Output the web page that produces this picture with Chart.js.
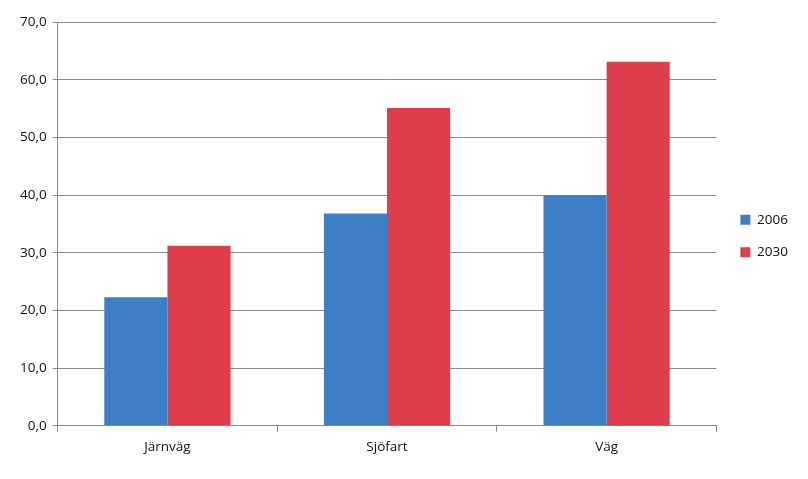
<!DOCTYPE html>
<html>
<head>
    <meta charset="utf-8">
    <title>Godstransporter 2006 och 2030</title>
    <script src="https://cdn.jsdelivr.net/npm/chart.js"></script>
    <style>
        body { margin: 0; background: #fff; }
        #wrap { width: 808px; height: 479px; position: relative; }
    </style>
</head>
<body>

<div id="wrap"><canvas id="transport_chart"></canvas></div>

<script>
const categories = ['Järnväg', 'Sjöfart', 'Väg'];
const seriesNames = ['2006', '2030'];
const values2006 = [22.3, 36.8, 40.0];
const values2030 = [31.2, 55.1, 63.1];
const yTickLabels = ['0,0', '10,0', '20,0', '30,0', '40,0', '50,0', '60,0', '70,0'];

// nudge the legend up and right a little, like the original
const legendShift = {
    id: 'legendShift',
    afterLayout(chart) {
        const lg = chart.legend;
        lg.top -= 6;
        lg.bottom -= 6;
        lg.left += 5;
        lg.right += 5;
    }
};

document.addEventListener("DOMContentLoaded", function() {
    const ctx = document.getElementById('transport_chart').getContext('2d');
    const font = { family: '"Open Sans", sans-serif', size: 13.5 };

    new Chart(ctx, {
        type: 'bar',
        data: {
            labels: categories,
            datasets: [{
                label: seriesNames[0],
                data: values2006,
                backgroundColor: '#3d7ec6',
                barPercentage: 1,
                categoryPercentage: 0.575
            }, {
                label: seriesNames[1],
                data: values2030,
                backgroundColor: '#de3e4c',
                barPercentage: 1,
                categoryPercentage: 0.575
            }]
        },
        options: {
            responsive: true,
            maintainAspectRatio: false,
            animation: false,
            layout: {
                padding: { top: 22, left: 14, right: 15, bottom: 17 }
            },
            scales: {
                x: {
                    offset: true,
                    grid: {
                        offset: true,
                        drawOnChartArea: false,
                        drawTicks: true,
                        tickLength: 6,
                        color: '#8a8a8a'
                    },
                    border: { color: '#8a8a8a', width: 1 },
                    ticks: { color: '#111', font: font, padding: 7 }
                },
                y: {
                    min: 0,
                    max: 70,
                    ticks: {
                        stepSize: 10,
                        color: '#111',
                        font: font,
                        padding: 6,
                        callback: function(value, index) {
                            return yTickLabels[index];
                        }
                    },
                    grid: {
                        color: '#8a8a8a',
                        tickLength: 5,
                        lineWidth: 1
                    },
                    border: { color: '#8a8a8a', width: 1 }
                }
            },
            plugins: {
                legend: {
                    display: true,
                    position: 'right',
                    labels: {
                        boxWidth: 10,
                        boxHeight: 10,
                        padding: 19,
                        color: '#111',
                        font: font
                    }
                },
                tooltip: { enabled: false }
            }
        },
        plugins: [legendShift]
    });
});
</script>

</body>
</html>
